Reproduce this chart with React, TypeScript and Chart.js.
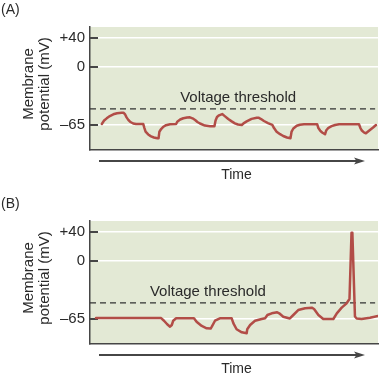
import React, { useEffect, useRef } from 'react';
import { Chart, registerables } from 'chart.js';

Chart.register(...registerables);

const FONT = '"Liberation Sans", Arial, Helvetica, sans-serif';
const BG = '#e3e9d5';
const TRACE = '#b24d47';
const AXIS = '#464646';
const TEXT = '#2a2a2a';

// Panel A: subthreshold EPSPs and IPSPs (time in arbitrary units 0-100, voltage in mV)
const timeA = [4.1, 4.9, 5.8, 6.9, 8.1, 9.4, 11.0, 11.6, 12.2, 12.7, 13.3, 13.9, 15.0, 16.0, 18.5, 18.9, 19.3, 20.2, 21.2, 22.2, 23.4, 23.8, 24.1, 24.7, 25.5, 26.4, 27.8, 29.9, 30.3, 31.3, 32.4, 33.7, 34.7, 35.6, 36.5, 37.3, 38.2, 39.9, 41.7, 43.2, 43.6, 44.1, 44.8, 45.9, 46.9, 48.0, 49.2, 50.3, 51.4, 52.7, 53.3, 54.4, 56.1, 57.9, 58.5, 59.4, 60.4, 61.8, 63.3, 63.9, 64.8, 66.0, 67.1, 68.4, 69.6, 70.0, 70.6, 71.8, 72.9, 74.3, 78.9, 79.3, 79.9, 80.6, 81.6, 82.0, 82.8, 83.9, 85.1, 86.5, 93.4, 93.9, 94.4, 95.1, 95.8, 97.2, 98.3, 99.3];
const voltageA = [-63.9, -60.0, -57.5, -54.9, -53.0, -51.8, -51.2, -51.2, -53.2, -56.4, -59.2, -61.3, -63.3, -63.9, -63.9, -68.4, -72.5, -75.6, -77.7, -79.0, -79.8, -79.9, -72.5, -69.5, -66.9, -65.2, -64.2, -63.9, -61.3, -58.8, -57.4, -56.6, -56.4, -57.5, -59.4, -61.6, -63.3, -65.6, -66.3, -66.5, -60.0, -56.0, -54.1, -52.7, -55.3, -58.3, -60.9, -63.1, -64.4, -65.0, -63.1, -60.9, -58.1, -56.8, -56.8, -58.3, -60.5, -62.8, -64.8, -68.4, -72.5, -75.3, -77.3, -79.0, -79.9, -72.3, -68.9, -65.8, -64.7, -64.2, -64.2, -68.4, -71.2, -73.4, -75.4, -71.2, -68.1, -66.3, -65.0, -64.2, -64.2, -68.4, -71.2, -73.2, -74.3, -70.6, -67.8, -65.0];

// Panel B: summation reaching threshold and firing an action potential
const timeB = [2.1, 24.7, 25.7, 26.8, 27.8, 28.4, 28.9, 29.9, 36.1, 37.0, 38.8, 40.5, 41.9, 42.3, 43.4, 45.1, 49.2, 49.8, 50.9, 52.7, 54.4, 54.6, 55.6, 57.3, 59.6, 60.8, 61.6, 63.1, 65.0, 65.7, 67.1, 69.4, 70.6, 72.3, 74.7, 77.0, 77.8, 79.3, 81.0, 84.5, 85.7, 87.4, 89.1, 90.1, 90.8, 91.1, 92.0, 92.6, 94.3, 97.2, 100];
const voltageB = [-64.0, -64.0, -66.9, -70.9, -73.6, -71.7, -66.9, -64.2, -64.2, -68.0, -72.8, -75.4, -75.6, -73.6, -66.9, -64.2, -64.2, -69.8, -76.5, -79.9, -81.0, -76.5, -71.7, -66.9, -65.0, -64.2, -60.5, -58.6, -57.5, -58.6, -62.4, -64.4, -60.5, -54.9, -53.0, -52.3, -53.8, -60.5, -65.0, -65.0, -58.6, -52.3, -47.4, -42.6, 39, 39, -62.2, -64.4, -65.0, -63.5, -61.6];

const yTickValues = [-65, 0, 40];
const yTickLabels = ['\u201365', '0', '+40'];
const thresholdMV = -47;
const yRangeMV = [-93, 55.2];
const timeRange = [0, 100];
const thresholdSpan = [0, 99];
const thresholdLabel = 'Voltage threshold';
const thresholdLabelTimeA = 31.3;
const thresholdLabelTimeB = 20.8;
const axisTitle = ['Membrane', 'potential (mV)'];
const timeTitle = 'Time';
const panelLetters = ['(A)', '(B)'];

// schematic axis: the segment from 0 to -65 mV is drawn stretched
const toAxis = (mV: number) => (mV >= 0 ? mV : (mV * 80) / 65);

const decor = {
  id: 'decor',
  beforeDraw(chart: any) {
    const { ctx, chartArea: a } = chart;
    ctx.save();
    ctx.fillStyle = BG;
    ctx.fillRect(a.left, a.top, a.right - a.left, a.bottom - a.top);
    ctx.restore();
  },
  beforeDatasetsDraw(chart: any) {
    const { ctx, chartArea: a, scales } = chart;
    ctx.save();
    ctx.strokeStyle = AXIS;
    ctx.lineWidth = 2;
    for (const v of yTickValues) {
      const py = scales.y.getPixelForValue(toAxis(v));
      ctx.beginPath();
      ctx.moveTo(a.left, py);
      ctx.lineTo(a.left + 8, py);
      ctx.stroke();
    }
    ctx.restore();
  },
  afterDraw(chart: any, _args: any, opts: any) {
    const { ctx, chartArea: a, scales } = chart;
    ctx.save();
    ctx.fillStyle = TEXT;
    ctx.font = `14px ${FONT}`;
    ctx.textAlign = 'left';
    ctx.textBaseline = 'middle';
    ctx.fillText(opts.letter, 1, a.top - 17);

    ctx.font = `15px ${FONT}`;
    ctx.textBaseline = 'alphabetic';
    const ty = scales.y.getPixelForValue(toAxis(thresholdMV));
    ctx.fillText(thresholdLabel, scales.x.getPixelForValue(opts.labelT), ty - 7);

    ctx.textAlign = 'center';
    ctx.textBaseline = 'middle';
    const cy = a.top + 57;
    axisTitle.forEach((line, i) => {
      ctx.save();
      ctx.translate(29 + i * 16, cy);
      ctx.rotate(-Math.PI / 2);
      ctx.fillText(line, 0, 0);
      ctx.restore();
    });

    const ay = a.bottom + 11;
    ctx.strokeStyle = AXIS;
    ctx.lineWidth = 2;
    ctx.beginPath();
    ctx.moveTo(a.left + 9, ay);
    ctx.lineTo(a.left + 268, ay);
    ctx.stroke();
    ctx.fillStyle = AXIS;
    ctx.beginPath();
    ctx.moveTo(a.left + 275, ay);
    ctx.lineTo(a.left + 264, ay - 3.5);
    ctx.lineTo(a.left + 266.5, ay);
    ctx.lineTo(a.left + 264, ay + 3.5);
    ctx.closePath();
    ctx.fill();

    ctx.fillStyle = TEXT;
    ctx.font = `14px ${FONT}`;
    ctx.fillText(timeTitle, (a.left + a.right) / 2 + 2.5, a.bottom + 25);
    ctx.restore();
  },
};

function makeConfig(times: number[], volts: number[], letter: string, labelT: number, height: number): any {
  return {
    type: 'line',
    data: {
      datasets: [
        {
          data: times.map((t, i) => ({ x: t, y: toAxis(volts[i]) })),
          borderColor: TRACE,
          borderWidth: 2.5,
          pointRadius: 0,
          tension: 0,
          borderJoinStyle: 'round',
          borderCapStyle: 'round',
          fill: false,
        },
        {
          data: thresholdSpan.map((t) => ({ x: t, y: toAxis(thresholdMV) })),
          borderColor: '#333333',
          borderWidth: 1.2,
          borderDash: [6, 4],
          pointRadius: 0,
          fill: false,
        },
      ],
    },
    options: {
      animation: false,
      responsive: false,
      maintainAspectRatio: false,
      events: [],
      layout: { padding: { top: 27, right: 2, left: 0, bottom: 0 } },
      plugins: {
        legend: { display: false },
        tooltip: { enabled: false },
        title: { display: false },
        decor: { letter, labelT },
      },
      scales: {
        x: {
          type: 'linear',
          min: timeRange[0],
          max: timeRange[1],
          ticks: { display: false },
          grid: { display: false, drawTicks: false },
          border: { display: true, color: AXIS, width: 1.5 },
          afterFit: (s: any) => {
            s.height = height - 150;
          },
        },
        y: {
          type: 'linear',
          min: toAxis(yRangeMV[0]),
          max: toAxis(yRangeMV[1]),
          afterBuildTicks: (s: any) => {
            s.ticks = yTickValues.map((v) => ({ value: toAxis(v) }));
          },
          ticks: {
            callback: (_v: any, i: number) => yTickLabels[i],
            font: { family: FONT, size: 15 },
            color: TEXT,
            padding: 5,
          },
          grid: { color: '#ffffff', lineWidth: 1.5, drawTicks: false },
          border: { display: true, color: AXIS, width: 1.5 },
          afterFit: (s: any) => {
            s.width = 90;
          },
        },
      },
    },
    plugins: [decor],
  };
}

export default function App() {
  const refA = useRef<HTMLCanvasElement>(null);
  const refB = useRef<HTMLCanvasElement>(null);

  useEffect(() => {
    const cA = new Chart(refA.current!, makeConfig(timeA, voltageA, panelLetters[0], thresholdLabelTimeA, 194));
    const cB = new Chart(refB.current!, makeConfig(timeB, voltageB, panelLetters[1], thresholdLabelTimeB, 181));
    return () => {
      cA.destroy();
      cB.destroy();
    };
  }, []);

  return (
    <div style={{ position: 'absolute', left: 0, top: 0, width: 380, height: 375, background: '#ffffff' }}>
      <canvas ref={refA} width={380} height={194} style={{ position: 'absolute', left: 0, top: 0, width: 380, height: 194 }} />
      <canvas ref={refB} width={380} height={181} style={{ position: 'absolute', left: 0, top: 194, width: 380, height: 181 }} />
    </div>
  );
}
